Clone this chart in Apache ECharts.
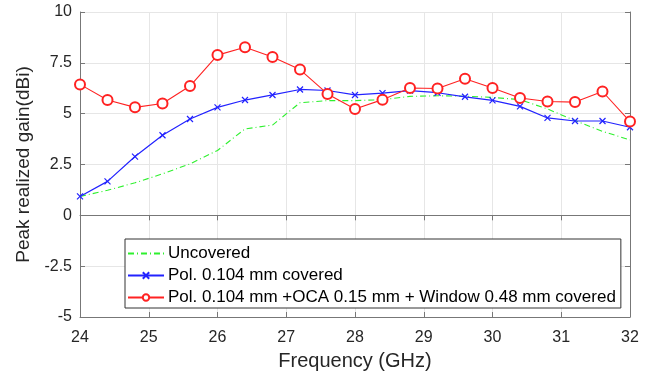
<!DOCTYPE html>
<html><head><meta charset="utf-8">
<script src="https://cdn.jsdelivr.net/npm/echarts@6/dist/echarts.min.js"></script>
<style>html,body{margin:0;padding:0;background:#fff}#c{width:655px;height:380px}</style>
</head><body><div id="c"></div>
<script>
const freq = [24,24.4,24.8,25.2,25.6,26,26.4,26.8,27.2,27.6,28,28.4,28.8,29.2,29.6,30,30.4,30.8,31.2,31.6,32];
const uncovered = [0.93,1.23,1.60,2.04,2.53,3.19,4.25,4.44,5.54,5.64,5.64,5.69,5.85,5.88,5.86,5.80,5.69,5.23,4.66,4.13,3.71];
const polCovered = [0.93,1.67,2.89,3.94,4.74,5.31,5.67,5.92,6.19,6.14,5.92,6.01,6.13,6.03,5.83,5.65,5.36,4.79,4.64,4.64,4.33];
const fullCovered = [6.44,5.67,5.31,5.50,6.36,7.88,8.27,7.79,7.17,5.97,5.23,5.69,6.26,6.24,6.72,6.26,5.77,5.60,5.57,6.09,4.61];
const seriesNames = ['Uncovered','Pol. 0.104 mm covered','Pol. 0.104 mm +OCA 0.15 mm + Window 0.48 mm covered'];
const xTicks = [24,25,26,27,28,29,30,31,32];
const yTicks = [-5,-2.5,0,2.5,5,7.5,10];

const pair = (ys) => freq.map((f,i)=>[f, ys[i]]);
const font = 'Liberation Sans, Arial, Helvetica, sans-serif';
const axisGrey = '#777';
const txt = '#262626';
const green = '#2ef02e', blue = '#2222ff', red = '#ff2222';
const chart = echarts.init(document.getElementById('c'), null, {renderer:'canvas'});
const xSym = 'path://M0,0L10,10M10,0L0,10';
const clear = 'rgba(0,0,0,0)';
chart.setOption({
  animation:false,
  backgroundColor:'#fff',
  grid:{left:80,right:25,top:12,bottom:63,containLabel:false},
  xAxis:[{
    type:'value',min:xTicks[0],max:xTicks[xTicks.length-1],interval:1,
    name:'Frequency (GHz)',nameLocation:'middle',nameGap:34,
    nameTextStyle:{fontFamily:font,fontSize:20,color:txt},
    axisLine:{show:true,onZero:false,lineStyle:{color:axisGrey,width:1}},
    axisTick:{show:true,inside:true,length:5,lineStyle:{color:axisGrey}},
    axisLabel:{fontFamily:font,fontSize:16,color:txt,margin:13},
    splitLine:{show:true,lineStyle:{color:'#e6e6e6',width:1}}
  },{
    type:'value',position:'top',min:xTicks[0],max:xTicks[xTicks.length-1],interval:1,
    axisLine:{show:true,lineStyle:{color:axisGrey}},
    axisTick:{show:true,inside:true,length:5,lineStyle:{color:axisGrey}},
    axisLabel:{show:false},splitLine:{show:false}
  }],
  yAxis:[{
    type:'value',min:yTicks[0],max:yTicks[yTicks.length-1],interval:2.5,
    name:'Peak realized gain(dBi)',nameLocation:'middle',nameGap:44,
    nameTextStyle:{fontFamily:font,fontSize:19,color:txt},
    axisLine:{show:true,onZero:false,lineStyle:{color:axisGrey,width:1}},
    axisTick:{show:true,inside:true,length:5,lineStyle:{color:axisGrey}},
    axisLabel:{fontFamily:font,fontSize:16,color:txt,margin:8,formatter:(v)=>String(v)},
    splitLine:{show:true,lineStyle:{color:'#e6e6e6',width:1}}
  },{
    type:'value',position:'right',min:yTicks[0],max:yTicks[yTicks.length-1],interval:2.5,
    axisLine:{show:true,lineStyle:{color:axisGrey}},
    axisTick:{show:true,inside:true,length:5,lineStyle:{color:axisGrey}},
    axisLabel:{show:false},splitLine:{show:false}
  }],
  legend:{
    orient:'vertical',left:125,top:239,
    data:[
      {name:seriesNames[0],itemStyle:{color:clear,borderColor:clear,borderWidth:0}},
      {name:seriesNames[1]},
      {name:seriesNames[2]}
    ],
    backgroundColor:'#fff',borderColor:'#333',borderWidth:1,borderRadius:0,
    padding:[6,5,2,2],itemGap:5,itemWidth:36,itemHeight:8,
    textStyle:{fontFamily:font,fontSize:17,color:'#000',padding:[0,0,0,-1]}
  },
  series:[{
    name:seriesNames[0],type:'line',data:pair(uncovered),
    symbol:'circle',showSymbol:false,
    lineStyle:{color:green,width:1.1,type:[6,3,1,3]},
    itemStyle:{color:green}
  },{
    name:seriesNames[1],type:'line',data:pair(polCovered),
    symbol:xSym,symbolSize:6,
    lineStyle:{color:blue,width:1.2},
    itemStyle:{color:blue,borderColor:blue,borderWidth:1.2}
  },{
    name:seriesNames[2],type:'line',data:pair(fullCovered),
    symbol:'emptyCircle',symbolSize:10,
    lineStyle:{color:red,width:1.1},
    itemStyle:{color:red,borderColor:red,borderWidth:1.1}
  }]
});
</script></body></html>
